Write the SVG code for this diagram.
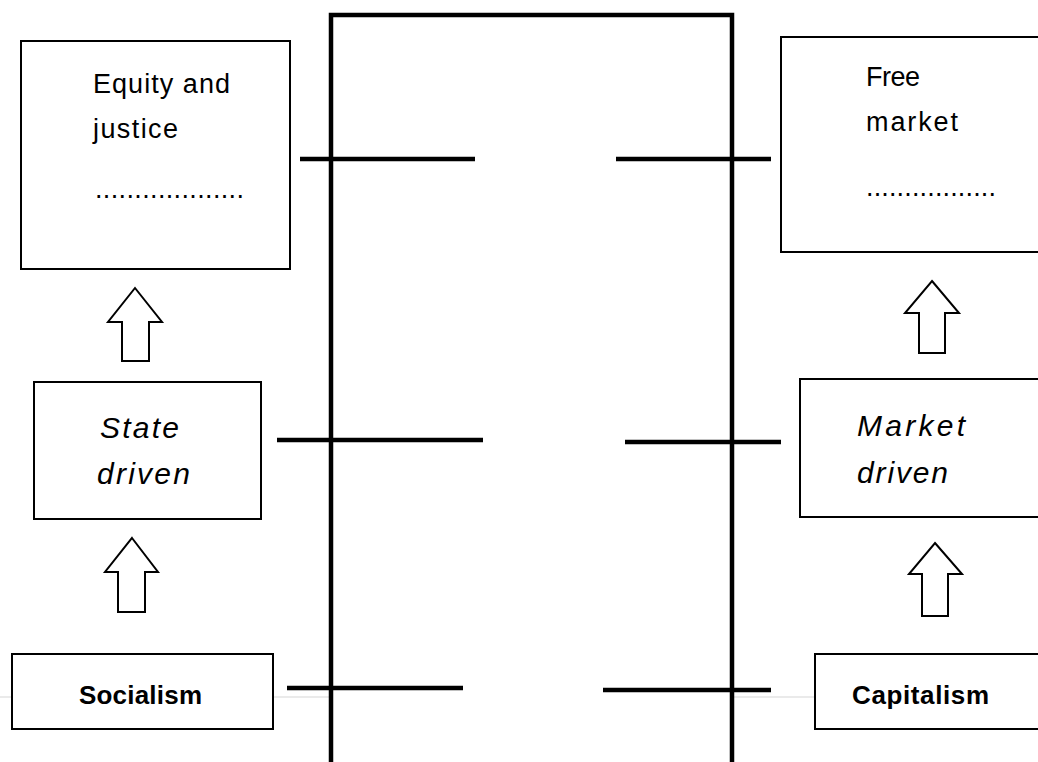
<svg xmlns="http://www.w3.org/2000/svg" width="1038" height="762" viewBox="0 0 1038 762">
<style>
.box{fill:#fff;stroke:#000;stroke-width:2}
.arrow{fill:#fff;stroke:#000;stroke-width:2;stroke-linejoin:miter}
.t{font-family:"Liberation Sans",Arial,sans-serif;font-size:27px;fill:#000}
.i{font-style:italic;font-size:30px}
.b{font-weight:bold;font-size:26px}
.frame{stroke:#000;stroke-width:4.5;fill:none}
.bar{stroke:#000;stroke-width:4.5}
</style>
<rect width="1038" height="762" fill="#fff"/>
<g id="guide">
<line x1="0" y1="697" x2="330" y2="697" stroke="#d6d6d6" stroke-width="1.2"/>
<line x1="732" y1="697" x2="1038" y2="697" stroke="#d6d6d6" stroke-width="1.2"/>
</g>
<g id="connectors">
<path class="frame" d="M331 770 V15 H732 V770"/>
<line class="bar" x1="300" y1="159" x2="475" y2="159"/>
<line class="bar" x1="616" y1="159" x2="771" y2="159"/>
<line class="bar" x1="277" y1="440" x2="483" y2="440"/>
<line class="bar" x1="625" y1="442" x2="781" y2="442"/>
<line class="bar" x1="287" y1="688" x2="463" y2="688"/>
<line class="bar" x1="603" y1="690" x2="771" y2="690"/>
<polygon class="arrow" points="135,288 162,322 149,322 149,361 122,361 122,322 108,322"/>
<polygon class="arrow" points="132,538 158,572 145,572 145,612 118,612 118,572 105,572"/>
<polygon class="arrow" points="932,281 959,313 945,313 945,353 919,353 919,313 905,313"/>
<polygon class="arrow" points="935,543 962,574 948,574 948,616 922,616 922,574 909,574"/>
</g>
<g id="equity">
<rect class="box" x="21" y="41" width="269" height="228"/>
<text class="t" x="93" y="93" textLength="137">Equity and</text>
<text class="t" x="93" y="138" textLength="85">justice</text>
<text class="t" x="95" y="198" textLength="149">...................</text>
</g>
<g id="freemarket">
<rect class="box" x="781" y="37" width="270" height="215"/>
<text class="t" x="866" y="86" textLength="54">Free</text>
<text class="t" x="866" y="131" textLength="92">market</text>
<text class="t" x="866" y="196" textLength="130">.................</text>
</g>
<g id="state">
<rect class="box" x="34" y="382" width="227" height="137"/>
<text class="t i" x="100" y="438" textLength="79">State</text>
<text class="t i" x="97" y="484" textLength="93">driven</text>
</g>
<g id="market">
<rect class="box" x="800" y="379" width="250" height="138"/>
<text class="t i" x="857" y="436" textLength="108">Market</text>
<text class="t i" x="857" y="483" textLength="91">driven</text>
</g>
<g id="socialism">
<rect class="box" x="12" y="654" width="261" height="75"/>
<text class="t b" x="79" y="704" textLength="123">Socialism</text>
</g>
<g id="capitalism">
<rect class="box" x="815" y="654" width="240" height="75"/>
<text class="t b" x="852" y="704" textLength="137">Capitalism</text>
</g>
</svg>
